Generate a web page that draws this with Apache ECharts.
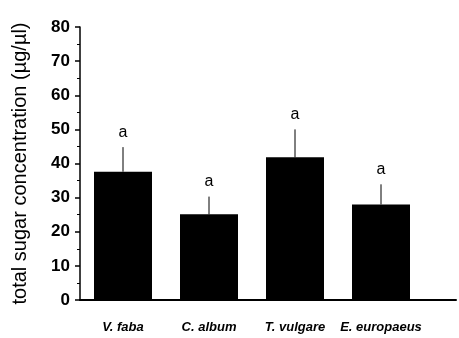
<!DOCTYPE html>
<html><head><meta charset="utf-8">
<script src="https://cdn.jsdelivr.net/npm/echarts@6/dist/echarts.min.js"></script>
<style>html,body{margin:0;padding:0;background:#fff}#c{width:459px;height:338px}</style>
</head><body><div id="c"></div>
<script>
const categories = ['V. faba', 'C. album', 'T. vulgare', 'E. europaeus'];
const means = [37.6, 25.1, 41.8, 28.0];
const errorTops = [44.8, 30.3, 50.0, 33.9];
const letters = ['a', 'a', 'a', 'a'];
const yTicks = [0, 10, 20, 30, 40, 50, 60, 70, 80];

const FONT = '"Liberation Sans", Arial, sans-serif';
const chart = echarts.init(document.getElementById('c'));
chart.setOption({
  animation: false,
  grid: [
    {left: 80, top: 27, width: 344, bottom: 38},
    {left: 80, top: 27, right: 3, bottom: 38}
  ],
  xAxis: [
    {type: 'category', gridIndex: 0, data: categories,
     axisLine: {show: false}, axisTick: {show: false},
     axisLabel: {interval: 0, color: '#000', fontFamily: FONT, fontSize: 13, fontWeight: 'bold', fontStyle: 'italic', margin: 21}},
    {type: 'value', gridIndex: 1, min: 0, max: 1,
     axisLine: {show: true, lineStyle: {color: '#000', width: 2}},
     axisTick: {show: false}, axisLabel: {show: false}, splitLine: {show: false}}
  ],
  yAxis: [
    {type: 'value', gridIndex: 0, min: yTicks[0], max: yTicks[yTicks.length - 1], interval: 10,
     name: 'total sugar concentration (µg/µl)', nameLocation: 'middle', nameGap: 50,
     nameTextStyle: {color: '#000', fontFamily: FONT, fontSize: 20},
     axisLine: {show: true, lineStyle: {color: '#000', width: 1.5}},
     axisTick: {show: true, length: 5, lineStyle: {color: '#000', width: 1.5}},
     minorTick: {show: true, splitNumber: 2, length: 3, lineStyle: {color: '#000', width: 1}},
     splitLine: {show: false},
     axisLabel: {color: '#000', fontFamily: FONT, fontSize: 17, fontWeight: 'bold', margin: 10}},
    {type: 'value', gridIndex: 1, min: 0, max: 80, show: false}
  ],
  series: [
    {type: 'bar', xAxisIndex: 0, yAxisIndex: 0, data: means, barWidth: 58,
     itemStyle: {color: '#000'}},
    {type: 'custom', xAxisIndex: 0, yAxisIndex: 0,
     data: categories.map((c, i) => [i, means[i], errorTops[i], letters[i]]),
     renderItem: function (params, api) {
       const x = api.coord([api.value(0), 0])[0];
       const yb = api.coord([api.value(0), api.value(1)])[1];
       const yt = api.coord([api.value(0), api.value(2)])[1];
       return {type: 'group', children: [
         {type: 'line', shape: {x1: x, y1: yb, x2: x, y2: yt}, style: {stroke: '#000', lineWidth: 1}},
         {type: 'text', style: {text: api.value(3), x: x, y: yt - 15, align: 'center', verticalAlign: 'middle',
           font: '16px ' + FONT, fill: '#000'}}
       ]};
     }}
  ]
});
</script></body></html>
